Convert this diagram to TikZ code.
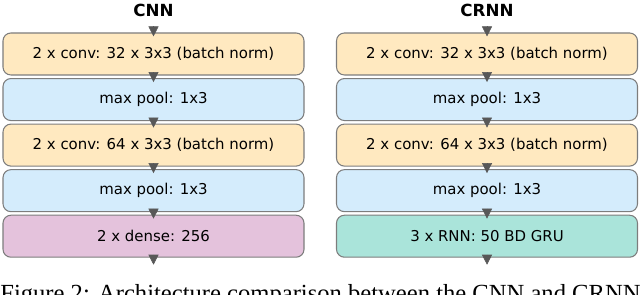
\documentclass[tikz,border=0pt]{standalone}
\usepackage{fontspec}
\setsansfont{DejaVu Sans}
\newfontfamily\capfont{Liberation Serif}
\usepackage{tikz}
\usetikzlibrary{arrows.meta, positioning}
\definecolor{convcol}{RGB}{255,233,192}
\definecolor{poolcol}{RGB}{212,236,252}
\definecolor{densecol}{RGB}{228,194,220}
\definecolor{rnncol}{RGB}{170,228,218}
\definecolor{edgecol}{RGB}{125,125,125}
\definecolor{tipcol}{RGB}{88,88,88}
\tikzset{
    layer/.style={
        rectangle,
        rounded corners=4.5pt,
        minimum width=6.02cm,
        minimum height=0.84cm,
        align=center,
        draw=edgecol,
        line width=0.6pt,
        font=\sffamily\fontsize{8.5}{10}\selectfont
    },
    convbox/.style={layer, fill=convcol},
    poolbox/.style={layer, fill=poolcol},
    densebox/.style={layer, fill=densecol},
    rnnbox/.style={layer, fill=rnncol},
    flow/.style={
        line width=0.3pt,
        draw=tipcol,
        -{Triangle[length=0.2cm, width=0.2cm, fill=tipcol]}
    }
}

\begin{document}
\begin{tikzpicture}[
    node distance=0.05cm,
    nettitle/.style={font=\sffamily\bfseries\fontsize{9.5}{11}\selectfont}
]
\path[use as bounding box, clip] (0,0) rectangle (12.8,5.9);

% CNN column
\node[nettitle] (cnn) at (3.07,5.70) {CNN};
\node[convbox] (a1) at (3.07,4.82) {2 x conv: 32 x 3x3 (batch norm)};
\node[poolbox, below=of a1] (a2) {max pool: 1x3};
\node[convbox, below=of a2] (a3) {2 x conv: 64 x 3x3 (batch norm)};
\node[poolbox, below=of a3] (a4) {max pool: 1x3};
\node[densebox, below=of a4] (a5) {2 x dense: 256};
\coordinate[above=0.12cm of a1.north] (ain);
\coordinate[below=0.14cm of a5.south] (aout);

% CRNN column
\node[nettitle] (crnn) at (9.74,5.70) {CRNN};
\node[convbox] (b1) at (9.74,4.82) {2 x conv: 32 x 3x3 (batch norm)};
\node[poolbox, below=of b1] (b2) {max pool: 1x3};
\node[convbox, below=of b2] (b3) {2 x conv: 64 x 3x3 (batch norm)};
\node[poolbox, below=of b3] (b4) {max pool: 1x3};
\node[rnnbox, below=of b4] (b5) {3 x RNN: 50 BD GRU};
\coordinate[above=0.12cm of b1.north] (bin);
\coordinate[below=0.14cm of b5.south] (bout);

% arrows between layers
\foreach \c in {a,b}{
    \draw[flow] (\c in) -- ([yshift=-0.08cm]\c1.north);
    \foreach \i/\j in {1/2,2/3,3/4,4/5}
        \draw[flow] ([yshift=0.07cm]\c\i.south) -- ([yshift=-0.08cm]\c\j.north);
    \draw[flow] ([yshift=0.06cm]\c5.south) -- (\c out);
}

% caption, cut by the frame
\node[anchor=base west, inner sep=0pt, font=\capfont\fontsize{14}{16}\selectfont] (cap) at (0,-0.13)
{Figure 2: Architecture comparison between the CNN and CRNN};
\end{tikzpicture}
\end{document}
